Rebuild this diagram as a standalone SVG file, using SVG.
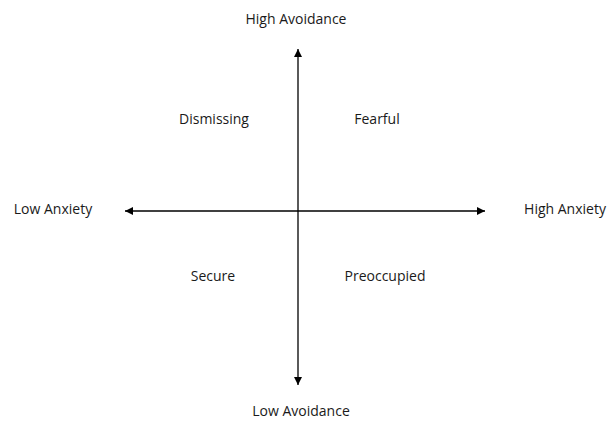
<svg xmlns="http://www.w3.org/2000/svg" width="608" height="422" viewBox="0 0 608 422">
<style>
text{font-family:"Open Sans","Liberation Sans",sans-serif;font-size:14px;fill:#1a1a1a;text-anchor:middle}
.ax{stroke:#000;stroke-width:1.3;fill:none}
</style>
<defs>
<marker id="ah" viewBox="0 0 10 10" refX="10" refY="5" markerWidth="8" markerHeight="8" markerUnits="userSpaceOnUse" orient="auto-start-reverse">
<path d="M0,0 L10,5 L0,10 z" fill="#000"/>
</marker>
</defs>
<rect width="608" height="422" fill="#fff"/>
<g id="connectors">
<line class="ax" x1="298" y1="385" x2="298" y2="49" marker-start="url(#ah)" marker-end="url(#ah)"/>
<line class="ax" x1="125" y1="211" x2="485" y2="211" marker-start="url(#ah)" marker-end="url(#ah)"/>
</g>
<g id="high-avoidance"><text x="296" y="24">High Avoidance</text></g>
<g id="low-avoidance"><text x="301" y="416">Low Avoidance</text></g>
<g id="low-anxiety"><text x="53" y="214">Low Anxiety</text></g>
<g id="high-anxiety"><text x="565" y="214">High Anxiety</text></g>
<g id="dismissing"><text x="214" y="124">Dismissing</text></g>
<g id="fearful"><text x="377" y="124">Fearful</text></g>
<g id="secure"><text x="213" y="281">Secure</text></g>
<g id="preoccupied"><text x="385" y="281">Preoccupied</text></g>
</svg>
